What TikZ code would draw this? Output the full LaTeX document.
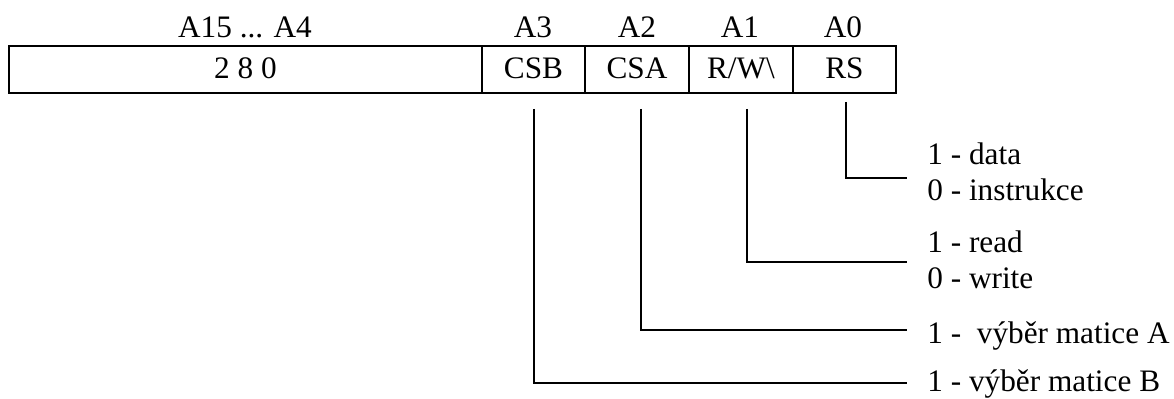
\documentclass[tikz,border=0pt]{standalone}
\usepackage{fontspec}
\setmainfont{Liberation Serif}
\usetikzlibrary{calc}
\tikzset{
	cellnode/.style={
			draw=black,
			line width=1.1pt,
			minimum height=0.94cm,
			inner sep=0pt,
			outer sep=0pt,
			text height=1.1em,
			text depth=0.1em,
			font=\fontsize{17.8}{21}\selectfont
		},
	headnode/.style={
			anchor=base,
			inner sep=0pt,
			font=\fontsize{17.8}{21}\selectfont
		},
	labelnode/.style={
			anchor=base west,
			inner sep=0pt,
			font=\fontsize{17.8}{21}\selectfont
		},
	wire/.style={
			draw=black,
			line width=0.8pt
		}
}

\begin{document}
\begin{tikzpicture}[x=0.02cm, y=-0.02cm]
\useasboundingbox (0,0) rectangle (1174,399);

% register cells
\node[cellnode, minimum width=9.46cm] (addr) at (245.5,69.5) {2 8 0};
\node[cellnode, minimum width=2.06cm] (csb) at (533.5,69.5) {CSB};
\node[cellnode, minimum width=2.08cm] (csa) at (637,69.5) {CSA};
\node[cellnode, minimum width=2.08cm] (rw) at (741,69.5) {R/W\textbackslash};
\node[cellnode, minimum width=2.06cm] (rs) at (844.5,69.5) {RS};

% address bits
\node[headnode] (hA15) at (245,37) {A15 ... A4};
\node[headnode] (hA3) at (533,37) {A3};
\node[headnode] (hA2) at (637,37) {A2};
\node[headnode] (hA1) at (740,37) {A1};
\node[headnode] (hA0) at (843,37) {A0};

% meanings
\node[labelnode] (lRSa) at (927,164) {1 - data};
\node[labelnode] (lRSb) at (927,200) {0 - instrukce};
\node[labelnode] (lRWa) at (927,252) {1 - read};
\node[labelnode] (lRWb) at (927,288) {0 - write};
\node[labelnode] (lCSA) at (927,343) {1 - \ výběr matice A};
\node[labelnode] (lCSB) at (927,391) {1 - výběr matice B};

\coordinate (eRS) at (907,178);
\coordinate (eRW) at (907,262);
\coordinate (eCSA) at (907,330);
\coordinate (eCSB) at (907,383);

\draw[wire] ($(rs.south)+(1.5,9)$) |- (eRS);
\draw[wire] ($(rw.south)+(6,16)$) |- (eRW);
\draw[wire] ($(csa.south)+(4,16)$) |- (eCSA);
\draw[wire] ($(csb.south)+(0.5,16)$) |- (eCSB);

\end{tikzpicture}
\end{document}
